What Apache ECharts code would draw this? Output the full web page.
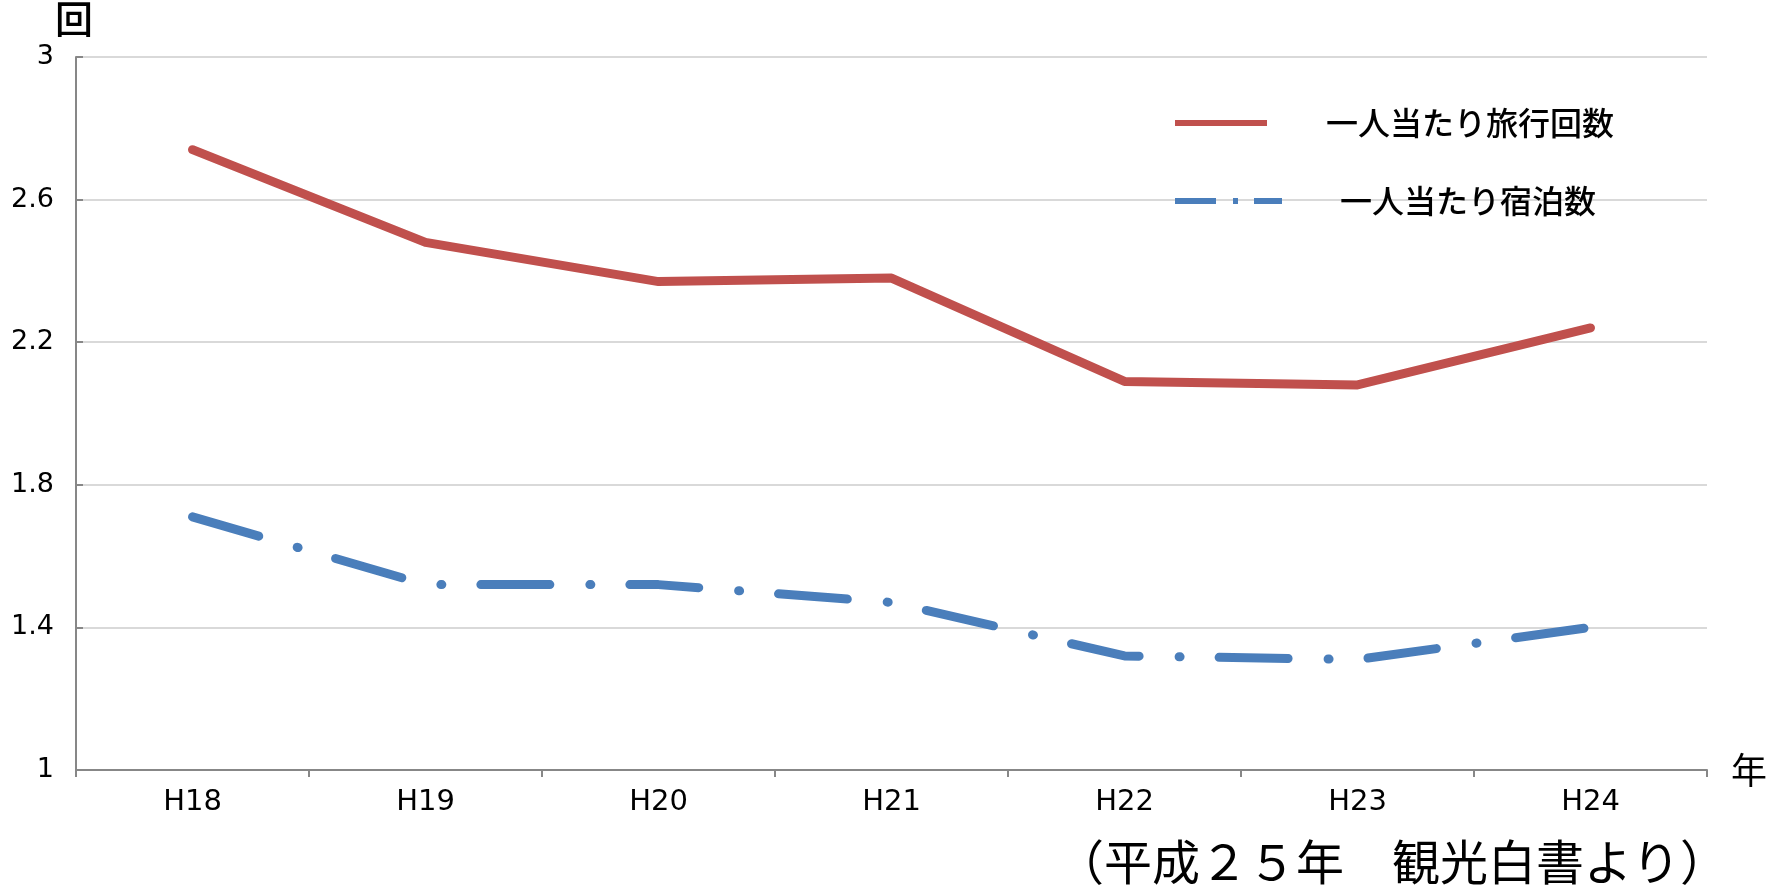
<!DOCTYPE html>
<html>
<head>
<meta charset="utf-8">
<script src="https://cdn.jsdelivr.net/npm/echarts@6/dist/echarts.min.js"></script>
<style>
  html, body { margin: 0; padding: 0; background: #fff; }
  #chart { width: 1783px; height: 888px; }
</style>
</head>
<body>
<div id="chart"></div>
<script>
// Fiscal years (Heisei era)
const years = ['H18', 'H19', 'H20', 'H21', 'H22', 'H23', 'H24'];
// Trips per person
const tripsPerPerson = [2.74, 2.48, 2.37, 2.38, 2.09, 2.08, 2.24];
// Overnight stays per person
const nightsPerPerson = [1.71, 1.52, 1.52, 1.47, 1.32, 1.31, 1.40];

const seriesNames = ['一人当たり旅行回数', '一人当たり宿泊数'];
const sourceNote = '（平成２５年　観光白書より）';

const jpFont = '"Noto Sans CJK JP", "Noto Sans", sans-serif';
const numFont = '"DejaVu Sans", sans-serif';
const axisGray = '#878787';
const gridGray = '#d9d9d9';

const chart = echarts.init(document.getElementById('chart'), null, { renderer: 'canvas' });

// One legend per series so each line sample can have its own length and pattern
function legendFor(name, iconWidth, spacer, top, lineStyle) {
  return {
    show: true,
    left: 1172,
    top: top,
    padding: 0,
    orient: 'horizontal',
    selectedMode: false,
    itemWidth: iconWidth,
    itemHeight: 32,
    data: [{ name: name, lineStyle: lineStyle, itemStyle: { opacity: 0 } }],
    formatter: n => '{s|}' + n,
    textStyle: {
      fontFamily: jpFont,
      fontSize: 32,
      fontWeight: 500,
      color: '#000',
      lineHeight: 32,
      rich: { s: { width: spacer, lineHeight: 32 } }
    }
  };
}

chart.setOption({
  animation: false,
  backgroundColor: '#fff',
  grid: { left: 76, right: 76, top: 57, bottom: 118, containLabel: false },
  title: {
    text: sourceNote,
    right: 55,
    top: 837,
    padding: 0,
    textStyle: { fontFamily: jpFont, fontSize: 48, fontWeight: 'normal', color: '#000', lineHeight: 50 }
  },
  legend: [
    legendFor(seriesNames[0], 92, 54, 107, { width: 6, type: 'solid', cap: 'butt', opacity: 1, color: '#c0504d' }),
    legendFor(seriesNames[1], 107, 53, 185, { width: 6, type: [41, 17, 5, 16], cap: 'butt', opacity: 1, color: '#4a7ebb' })
  ],
  xAxis: {
    type: 'category',
    data: years,
    boundaryGap: true,
    name: '年',
    nameLocation: 'end',
    nameGap: 24,
    nameTextStyle: { fontFamily: jpFont, fontSize: 36, color: '#000', verticalAlign: 'middle' },
    axisLine: { lineStyle: { color: axisGray, width: 2 } },
    axisTick: { show: true, inside: false, length: 7, alignWithLabel: false, lineStyle: { color: axisGray, width: 2 } },
    axisLabel: { fontFamily: numFont, fontSize: 29, color: '#000', margin: 18 },
    splitLine: { show: false }
  },
  yAxis: {
    type: 'value',
    min: 1,
    max: 3,
    interval: 0.4,
    name: '回',
    nameLocation: 'end',
    nameGap: 19,
    nameTextStyle: { fontFamily: jpFont, fontSize: 38, fontWeight: 500, color: '#000', padding: [0, 4, 0, 0] },
    axisLine: { show: true, lineStyle: { color: axisGray, width: 2 } },
    axisTick: { show: true, inside: true, length: 7, lineStyle: { color: axisGray, width: 2 } },
    axisLabel: { fontFamily: numFont, fontSize: 27, color: '#000', margin: 22 },
    splitLine: { show: true, lineStyle: { color: gridGray, width: 2 } }
  },
  series: [
    {
      name: seriesNames[0],
      type: 'line',
      data: tripsPerPerson,
      symbol: 'none',
      showSymbol: false,
      lineStyle: { color: '#c0504d', width: 9, cap: 'round', join: 'round' },
      itemStyle: { color: '#c0504d' },
      z: 3
    },
    {
      name: seriesNames[1],
      type: 'line',
      data: nightsPerPerson,
      symbol: 'none',
      showSymbol: false,
      lineStyle: { color: '#4a7ebb', width: 9, type: [69, 40, 1, 39], cap: 'round', join: 'round' },
      itemStyle: { color: '#4a7ebb' },
      z: 2
    }
  ]
});
</script>
</body>
</html>
